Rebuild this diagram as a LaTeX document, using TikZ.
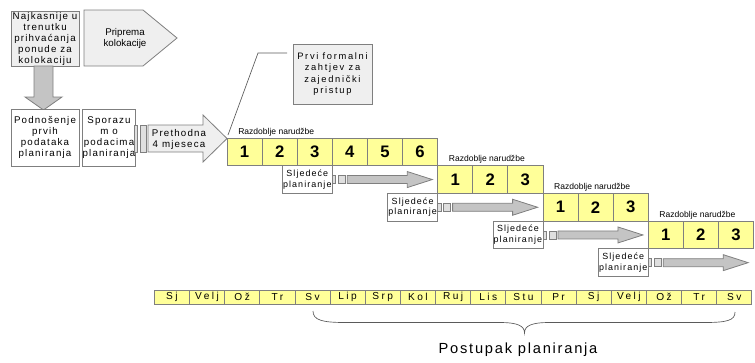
\documentclass[tikz,border=0pt]{standalone}
\usepackage{fontspec}
\setmainfont{Liberation Sans}
\newfontfamily\spaced[LetterSpace=12]{Liberation Sans}
\newfontfamily\loose[LetterSpace=18]{Liberation Sans}
\newfontfamily\wider[LetterSpace=24]{Liberation Sans}
\usepackage{tikz}
\definecolor{boxline}{HTML}{7F7F7F}
\definecolor{cellfill}{HTML}{FFFF99}
\definecolor{paleshade}{HTML}{EFEFEF}
\definecolor{midshade}{HTML}{C4C4C4}
\definecolor{smallshade}{HTML}{DFDFDF}
\definecolor{leadline}{HTML}{5A5A5A}

\begin{document}
\begin{tikzpicture}[x=0.75pt,y=-0.75pt,
  box/.style={draw=boxline,line width=0.6pt,inner sep=0pt,align=center,
    font=\fontsize{7.3}{8.25}\selectfont\spaced},
  cell/.style={draw=boxline,line width=0.6pt,fill=cellfill,inner sep=0pt,
    minimum width=26.325pt,minimum height=20.775pt,
    font=\fontsize{12.5}{14}\selectfont\bfseries},
  month/.style={draw=boxline,line width=0.6pt,fill=cellfill,inner sep=0pt,
    minimum width=26.3625pt,minimum height=10.5pt,
    font=\fontsize{7.6}{9}\selectfont\wider},
  nextbox/.style={box,fill=white,minimum width=37.5pt,minimum height=20.775pt,
    font=\fontsize{6.7}{8}\selectfont\spaced},
  period/.style={anchor=west,inner sep=0pt,font=\fontsize{6.4}{7}\selectfont},
  small/.style={draw=boxline,line width=0.5pt,fill=smallshade},
  fat/.style={draw=boxline,line width=0.6pt,fill=midshade}]
\useasboundingbox (0,0) rectangle (755,362);

%top boxes
\node [box,fill=paleshade,minimum width=51pt,minimum height=41.25pt] (latest) at (45,38.5)
  {Najkasnije u\\trenutku\\prihvaćanja\\ponude za\\kolokaciju};
\draw [draw=boxline,line width=0.6pt,fill=paleshade] (84,10) -- (143,10) -- (177,38) -- (143,66) -- (84,66) -- cycle;
\node [box,draw=none,font=\fontsize{7.3}{8.6}\selectfont] (prep) at (125,38.5) {Priprema\\kolokacije};
\draw [fat] (34,66) -- (53,66) -- (53,97) -- (62,97) -- (43.5,110) -- (25,97) -- (34,97) -- cycle;
\node [box,fill=white,minimum width=51pt,minimum height=42.75pt] (submit) at (45,137.5)
  {Podnošenje\\prvih\\podataka\\planiranja};
\node [box,fill=white,minimum width=37.5pt,minimum height=42.75pt] (agree) at (109,137.5)
  {Sporazu\\m o\\podacima\\planiranja};
\draw [small] (134,125) rectangle (137,152);
\draw [small] (140,125) rectangle (146,152);
\draw [draw=boxline,line width=0.6pt,fill=paleshade] (148,125) -- (203,125) -- (203,115) -- (227,138.5) -- (203,162) -- (203,152) -- (148,152) -- cycle;
\node [box,draw=none] (prior) at (179,139) {Prethodna\\4 mjeseca};

%callout
\node [box,fill=paleshade,minimum width=59.25pt,minimum height=45pt,
  font=\fontsize{7}{8.6}\selectfont\loose] (request) at (332.5,74)
  {Prvi formalni\\zahtjev za\\zajednički\\pristup};
\coordinate (priortip) at (228,135);
\coordinate (kink) at (258,53);
\coordinate (calloutend) at (287,53);
\draw [leadline,line width=0.5pt] (priortip) -- (kink) -- (calloutend);

%order periods
\node [period] (per1) at (238,132) {Razdoblje narudžbe};
\node [cell] (r1c1) at (244.55,151.85) {1};
\node [cell] (r1c2) at (279.65,151.85) {2};
\node [cell] (r1c3) at (314.75,151.85) {3};
\node [cell] (r1c4) at (349.85,151.85) {4};
\node [cell] (r1c5) at (384.95,151.85) {5};
\node [cell] (r1c6) at (420.05,151.85) {6};
\node [period] (per2) at (448.6,159.7) {Razdoblje narudžbe};
\node [cell] (r2c1) at (455.15,179.55) {1};
\node [cell] (r2c2) at (490.25,179.55) {2};
\node [cell] (r2c3) at (525.35,179.55) {3};
\node [period] (per3) at (553.9,187.4) {Razdoblje narudžbe};
\node [cell] (r3c1) at (560.45,207.25) {1};
\node [cell] (r3c2) at (595.55,207.25) {2};
\node [cell] (r3c3) at (630.65,207.25) {3};
\node [period] (per4) at (659.2,215.1) {Razdoblje narudžbe};
\node [cell] (r4c1) at (665.75,234.95) {1};
\node [cell] (r4c2) at (700.85,234.95) {2};
\node [cell] (r4c3) at (735.95,234.95) {3};

%next planning
\node [nextbox] (next1) at (307.3,179.55) {Sljedeće\\planiranje};
\draw [small] (332.3,175.55) rectangle ++(3.3,8);
\draw [small] (338.3,175.55) rectangle ++(7,8);
\draw [fat] (347.3,175.55) -- ++(60,0) -- ++(0,-4) -- ++(25,8) -- ++(-25,8) -- ++(0,-4) -- ++(-60,0) -- cycle;
\node [nextbox] (next2) at (412.6,207.25) {Sljedeće\\planiranje};
\draw [small] (437.6,203.25) rectangle ++(3.3,8);
\draw [small] (443.6,203.25) rectangle ++(7,8);
\draw [fat] (452.6,203.25) -- ++(60,0) -- ++(0,-4) -- ++(25,8) -- ++(-25,8) -- ++(0,-4) -- ++(-60,0) -- cycle;
\node [nextbox] (next3) at (517.9,234.95) {Sljedeće\\planiranje};
\draw [small] (542.9,230.95) rectangle ++(3.3,8);
\draw [small] (548.9,230.95) rectangle ++(7,8);
\draw [fat] (557.9,230.95) -- ++(60,0) -- ++(0,-4) -- ++(25,8) -- ++(-25,8) -- ++(0,-4) -- ++(-60,0) -- cycle;
\node [nextbox] (next4) at (623.2,262.65) {Sljedeće\\planiranje};
\draw [small] (648.2,258.65) rectangle ++(3.3,8);
\draw [small] (654.2,258.65) rectangle ++(7,8);
\draw [fat] (663.2,258.65) -- ++(60,0) -- ++(0,-4) -- ++(25,8) -- ++(-25,8) -- ++(0,-4) -- ++(-60,0) -- cycle;

%months
\node [month] (m1) at (171.875,297) {Sj};
\node [month] (m2) at (207.025,297) {Velj};
\node [month] (m3) at (242.175,297) {Ož};
\node [month] (m4) at (277.325,297) {Tr};
\node [month] (m5) at (312.475,297) {Sv};
\node [month] (m6) at (347.625,297) {Lip};
\node [month] (m7) at (382.775,297) {Srp};
\node [month] (m8) at (417.925,297) {Kol};
\node [month] (m9) at (453.075,297) {Ruj};
\node [month] (m10) at (488.225,297) {Lis};
\node [month] (m11) at (523.375,297) {Stu};
\node [month] (m12) at (558.525,297) {Pr};
\node [month] (m13) at (593.675,297) {Sj};
\node [month] (m14) at (628.825,297) {Velj};
\node [month] (m15) at (663.975,297) {Ož};
\node [month] (m16) at (699.125,297) {Tr};
\node [month] (m17) at (734.275,297) {Sv};

%brace
\draw [leadline,line width=0.5pt] (313,311) .. controls (313,320) and (322,322.5) .. (345,322.5)
  -- (500,322.5) .. controls (518,322.5) and (524.5,326) .. (524.5,333)
  .. controls (524.5,326) and (531,322.5) .. (549,322.5)
  -- (705,322.5) .. controls (728,322.5) and (735,320) .. (735,312);
\node [inner sep=0pt,font=\fontsize{11}{13}\selectfont\spaced] (process) at (518,350) {Postupak planiranja};
\end{tikzpicture}
\end{document}
